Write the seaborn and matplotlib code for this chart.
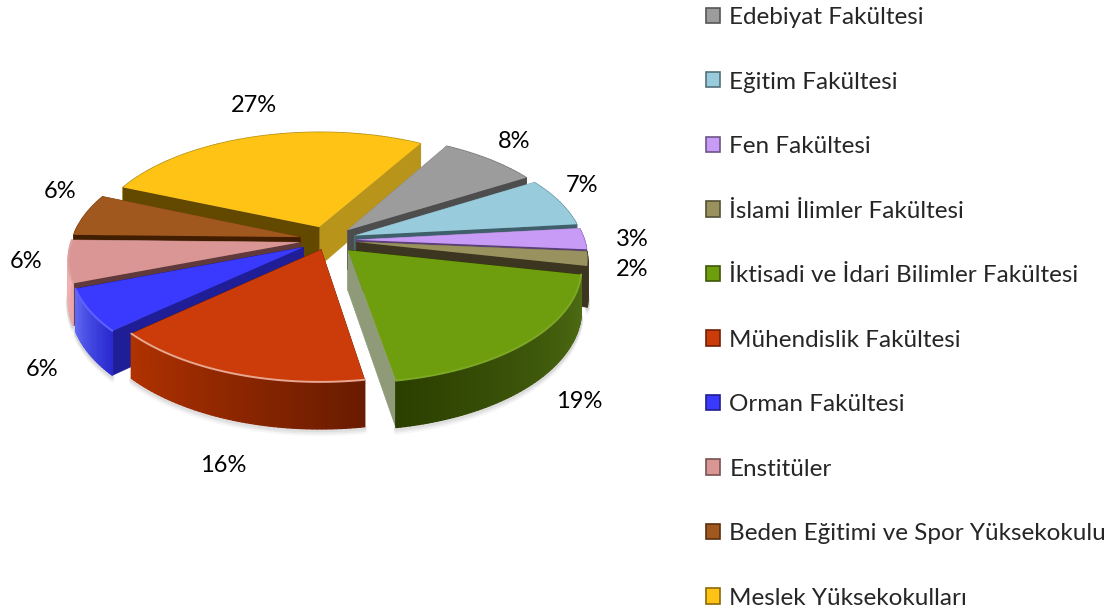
import numpy as np
import matplotlib
matplotlib.use("Agg")
import matplotlib.pyplot as plt
import seaborn as sns
from matplotlib.patches import Patch
from matplotlib.transforms import Transform

labels = ["Edebiyat Fakültesi", "Eğitim Fakültesi", "Fen Fakültesi", "İslami İlimler Fakültesi",
          "İktisadi ve İdari Bilimler Fakültesi", "Mühendislik Fakültesi", "Orman Fakültesi",
          "Enstitüler", "Beden Eğitimi ve Spor Yüksekokulu", "Meslek Yüksekokulları"]
values = [8, 7, 3, 2, 19, 16, 6, 6, 6, 27]

top_colors = ["#9C9C9C", "#98CBDB", "#C89BF6", "#99925F", "#6E9E0E",
              "#CC3C0A", "#3A3AFF", "#D99694", "#A0581E", "#FEC314"]
# rim colours, start and end of the arc (clockwise)
rim_a = ["#777777", "#6E9AA8", "#9A76C0", "#3C3520", "#4F6E14",
         "#6A1B00", "#2A2AD0", "#EAA6A6", "#8A4A18", "#B8941A"]
rim_b = ["#777777", "#6E9AA8", "#9A76C0", "#3C3520", "#2B3F00",
         "#B03200", "#5E68F2", "#F0B4B4", "#8A4A18", "#B8941A"]
# cut faces, at the clockwise start and end of each slice
cut_a = ["#8A8A8A", "#7FA9B6", "#A582CC", "#7F7A4F", "#2B3F00",
         "#7A2000", "#201E96", "#60393C", "#421E00", "#634800"]
cut_b = ["#4D4D4D", "#3F5F6B", "#5A3F7A", "#3C3520", "#8E9A78",
         "#6A1B00", "#201E96", "#B07C7A", "#7A4416", "#B8941A"]
# how much the top edge of the rim is lightened
bevel = [0, 0, 0, 0, 0.1, 0.55, 0.2, 0.1, 0, 0]
explode = [0.125, 0.125, 0.125, 0.125, 0.125, 0.09, 0.125, 0.125, 0.125, 0.125]

# back to front
draw_order = [9, 0, 1, 2, 3, 8, 7, 6, 4, 5]

pct_pos = [(514, 142), (582, 186), (632, 240), (632, 270), (579, 401),
           (223, 465), (42, 370), (26, 262), (60, 191), (254, 105)]

CX, CY, RX, RY, K, DEPTH = 328, 240, 228, 111.2, 0.138, 40


class Tilt(Transform):
    input_dims = 2
    output_dims = 2
    is_separable = False
    has_inverse = False

    def __init__(self, dz=0):
        super().__init__()
        self.dz = dz

    def transform_non_affine(self, values):
        values = np.asarray(values, dtype=float)
        w = 1 + K * values[:, 1]
        return np.column_stack([CX + RX * values[:, 0] / w,
                                CY + (self.dz - RY * values[:, 1]) / w])


def blend(c1, c2, t):
    a = np.array(matplotlib.colors.to_rgb(c1))
    b = np.array(matplotlib.colors.to_rgb(c2))
    return tuple(a + (b - a) * t)


sns.set_theme(style="white")
plt.rcParams["font.family"] = ["Lato", "DejaVu Sans"]

fig = plt.figure(figsize=(11.18, 6.11), dpi=100)
ax = fig.add_axes([0, 0, 1, 1])

palette = sns.color_palette(top_colors)
wedges, _ = ax.pie(values, colors=palette, startangle=60, counterclock=False,
                   explode=explode, radius=1)
ax.set_aspect("auto")
ax.set_xlim(0, 1118)
ax.set_ylim(611, 0)
ax.axis("off")

top = Tilt(0)
bottom = Tilt(DEPTH)

for rank, i in enumerate(draw_order):
    w = wedges[i]
    z = 10 + rank * 3
    cx, cy = w.center
    # clockwise along the arc
    th = np.radians(np.linspace(w.theta2, w.theta1, max(4, int(w.theta2 - w.theta1))))
    arc = np.column_stack([cx + np.cos(th), cy + np.sin(th)])
    up = top.transform(arc)
    low = bottom.transform(arc)
    apex_up = top.transform(np.array([[cx, cy]]))[0]
    apex_low = bottom.transform(np.array([[cx, cy]]))[0]

    # soft shadow under the front of the slice
    for off, a in [(5, 0.05), (3, 0.08), (1, 0.12)]:
        ax.plot(low[:, 0], low[:, 1] + off, color="#555555", alpha=a, lw=3, zorder=z - 1,
                solid_capstyle="round")

    def draw_rim():
        for j in range(len(th) - 1):
            c = blend(rim_a[i], rim_b[i], j / (len(th) - 2))
            ax.fill([up[j, 0], up[j + 1, 0], low[j + 1, 0], low[j, 0]],
                    [up[j, 1], up[j + 1, 1], low[j + 1, 1], low[j, 1]], color=c, lw=1.0, zorder=z)

    def draw_cuts():
        # the face that ends lower on screen is the one in front
        faces = [(0, cut_a[i]), (-1, cut_b[i])]
        faces.sort(key=lambda f: up[f[0], 1])
        for k, c in faces:
            ax.fill([apex_up[0], up[k, 0], low[k, 0], apex_low[0]],
                    [apex_up[1], up[k, 1], low[k, 1], apex_low[1]], color=c, lw=0.5, zorder=z)

    # rim of a back slice is hidden, rim of a front slice hides its cuts
    if np.sin(th).mean() > 0:
        draw_rim()
        draw_cuts()
    else:
        draw_cuts()
        draw_rim()

    w.set_transform(top + ax.transData)
    w.set_zorder(z + 1)
    w.set_edgecolor("none")

    # bevel between top and rim
    if bevel[i] > 0:
        ax.plot(up[:, 0], up[:, 1], color=blend(top_colors[i], "#FFFFFF", bevel[i]), lw=1.4, zorder=z + 1)

for v, (x, y) in zip(values, pct_pos):
    ax.text(x, y, f"{v}%", ha="center", va="center", fontsize=17, color="black", zorder=60)

handles = [Patch(facecolor=c, edgecolor=blend(c, "#000000", 0.45), linewidth=1.2) for c in top_colors]
leg = ax.legend(handles, labels, loc="upper left", bbox_to_anchor=(706 / 1118, 1 - 7 / 611),
                bbox_transform=fig.transFigure, frameon=False, fontsize=17.5,
                handlelength=0.58, handleheight=0.58, handletextpad=0.38, borderpad=0,
                borderaxespad=0, labelspacing=1.79)
leg.set_zorder(60)

fig.savefig("out.png", dpi=100)
